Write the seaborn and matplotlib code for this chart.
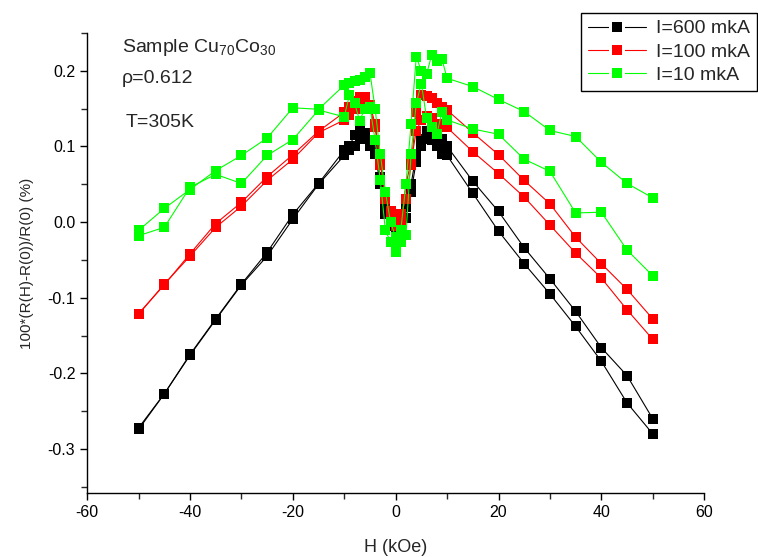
import matplotlib
matplotlib.use("Agg")
import matplotlib.pyplot as plt
from matplotlib.lines import Line2D
from matplotlib.legend_handler import HandlerTuple
from matplotlib.ticker import MultipleLocator, FormatStrFormatter
import seaborn as sns
import pandas as pd

# field values of one sweep branch (kOe)
H_outer_neg = [-50, -45, -40, -35, -30, -25, -20, -15]
H_inner = [-10, -9, -8, -7, -6, -5, -4, -3, -2, -1, 0, 1, 2, 3, 4, 5, 6, 7, 8, 9, 10]
H_outer_pos = [15, 20, 25, 30, 35, 40, 45, 50]
H = H_outer_neg + H_inner + H_outer_pos

# magnetoresistance, two branches per current
r600_a = [-0.272, -0.227, -0.175, -0.128, -0.082, -0.040, 0.010, 0.051,
          0.095, 0.100, 0.115, 0.120, 0.118, 0.100, 0.090, 0.050, 0.020, 0.005, -0.005,
          0.000, 0.020, 0.050, 0.090, 0.110, 0.120, 0.125, 0.115, 0.110, 0.100,
          0.054, 0.014, -0.034, -0.075, -0.118, -0.166, -0.203, -0.260]
r600_b = [-0.274, -0.227, -0.176, -0.129, -0.083, -0.045, 0.004, 0.050,
          0.088, 0.095, 0.100, 0.110, 0.115, 0.108, 0.095, 0.060, 0.010, -0.005, -0.015,
          -0.010, 0.005, 0.040, 0.080, 0.100, 0.110, 0.108, 0.100, 0.090, 0.088,
          0.038, -0.012, -0.055, -0.095, -0.138, -0.184, -0.239, -0.280]
r100_a = [-0.121, -0.083, -0.042, -0.002, 0.026, 0.060, 0.089, 0.120,
          0.145, 0.152, 0.160, 0.165, 0.165, 0.150, 0.125, 0.075, 0.040, 0.015, 0.000,
          0.010, 0.030, 0.075, 0.145, 0.168, 0.166, 0.164, 0.157, 0.152, 0.148,
          0.118, 0.089, 0.055, 0.024, -0.020, -0.055, -0.089, -0.128]
r100_b = [-0.122, -0.082, -0.045, -0.007, 0.021, 0.055, 0.083, 0.118,
          0.135, 0.142, 0.150, 0.155, 0.160, 0.155, 0.130, 0.080, 0.030, 0.010, -0.005,
          0.000, 0.050, 0.080, 0.120, 0.135, 0.140, 0.138, 0.130, 0.128, 0.125,
          0.093, 0.064, 0.033, -0.004, -0.041, -0.074, -0.116, -0.155]
r10_a = [-0.011, 0.018, 0.043, 0.068, 0.088, 0.111, 0.151, 0.149,
         0.181, 0.184, 0.186, 0.188, 0.192, 0.197, 0.150, 0.090, 0.040, 0.000, -0.020,
         -0.010, 0.050, 0.130, 0.218, 0.200, 0.195, 0.221, 0.213, 0.215, 0.190,
         0.179, 0.162, 0.146, 0.121, 0.113, 0.079, 0.051, 0.032]
r10_b = [-0.018, -0.007, 0.046, 0.063, 0.051, 0.088, 0.109, 0.148,
         0.139, 0.168, 0.157, 0.134, 0.150, 0.152, 0.108, 0.056, -0.011, -0.026, -0.040,
         -0.027, -0.017, 0.090, 0.157, 0.183, 0.138, 0.126, 0.116, 0.146, 0.135,
         0.123, 0.116, 0.083, 0.067, 0.012, 0.013, -0.037, -0.071]

labels = ["I=600 mkA", "I=100 mkA", "I=10 mkA"]
colors = {"I=600 mkA": "#000000", "I=100 mkA": "#ff0000", "I=10 mkA": "#00ff00"}

rows = []
for lab, branches in zip(labels, [(r600_a, r600_b), (r100_a, r100_b), (r10_a, r10_b)]):
    for k, vals in enumerate(branches):
        for h, r in zip(H, vals):
            rows.append({"H": h, "R": r, "current": lab, "branch": f"{lab}-{k}"})
df = pd.DataFrame(rows)

sns.set_theme(style="ticks")
plt.rcParams['font.family'] = ['Liberation Sans', 'DejaVu Sans']
plt.rcParams['mathtext.fontset'] = 'custom'
plt.rcParams['mathtext.rm'] = 'Liberation Sans'
plt.rcParams['axes.unicode_minus'] = False

fig = plt.figure(figsize=(7.58, 5.57), dpi=100)
ax = fig.add_axes([0.115, 0.115, 0.814, 0.826])

# draw black first, green on top
for lab in labels:
    sub = df[df["current"] == lab]
    sns.lineplot(data=sub, x="H", y="R", units="branch", estimator=None, sort=False,
                 color=colors[lab], marker="s", markersize=7.3, markeredgewidth=0,
                 linewidth=0.8, legend=False, ax=ax)

ax.set_xlim(-60, 60)
ax.set_ylim(-0.358, 0.25)
ax.xaxis.set_major_locator(MultipleLocator(20))
ax.xaxis.set_minor_locator(MultipleLocator(10))
ax.yaxis.set_major_locator(MultipleLocator(0.1))
ax.yaxis.set_minor_locator(MultipleLocator(0.05))
ax.yaxis.set_major_formatter(FormatStrFormatter('%.1f'))
ax.tick_params(which='major', direction='out', length=5, width=1, labelsize=11.5, colors='black')
ax.tick_params(which='minor', direction='out', length=4, width=1)
for s in ['top', 'right']:
    ax.spines[s].set_visible(False)
for s in ['left', 'bottom']:
    ax.spines[s].set_color('black')
    ax.spines[s].set_linewidth(1)

ax.set_xlabel('H (kOe)', fontsize=13, labelpad=14)
ax.set_ylabel('100*(R(H)-R(0))/R(0) (%)', fontsize=11, labelpad=10)

fig.text(122 / 758, 1 - 52 / 557, 'Sample Cu$_{70}$Co$_{30}$', fontsize=14, va='baseline')
fig.text(122 / 758, 1 - 83 / 557, 'ρ=0.612', fontsize=14, va='baseline')
fig.text(126 / 758, 1 - 127 / 557, 'T=305K', fontsize=14, va='baseline')

# legend handle: line, white gap, square marker (overlaid)
handles = []
for l in labels:
    line = Line2D([], [], color=colors[l], linewidth=0.8)
    gap = Line2D([], [], color='white', marker='s', markersize=12, markeredgewidth=0, linestyle='none')
    mark = Line2D([], [], color=colors[l], marker='s', markersize=7.3, markeredgewidth=0, linestyle='none')
    handles.append((line, gap, mark))
leg = fig.legend(handles, labels, loc='upper right', bbox_to_anchor=(757 / 758, 1 - 13 / 557),
                 handler_map={tuple: HandlerTuple(ndivide=1, pad=0)},
                 frameon=True, fancybox=False, framealpha=1, edgecolor='black',
                 fontsize=14, handlelength=3.0, borderaxespad=0, labelspacing=0.3,
                 handletextpad=0.5, borderpad=0.35)
leg.get_frame().set_linewidth(1)

fig.savefig('out.png', dpi=100)
